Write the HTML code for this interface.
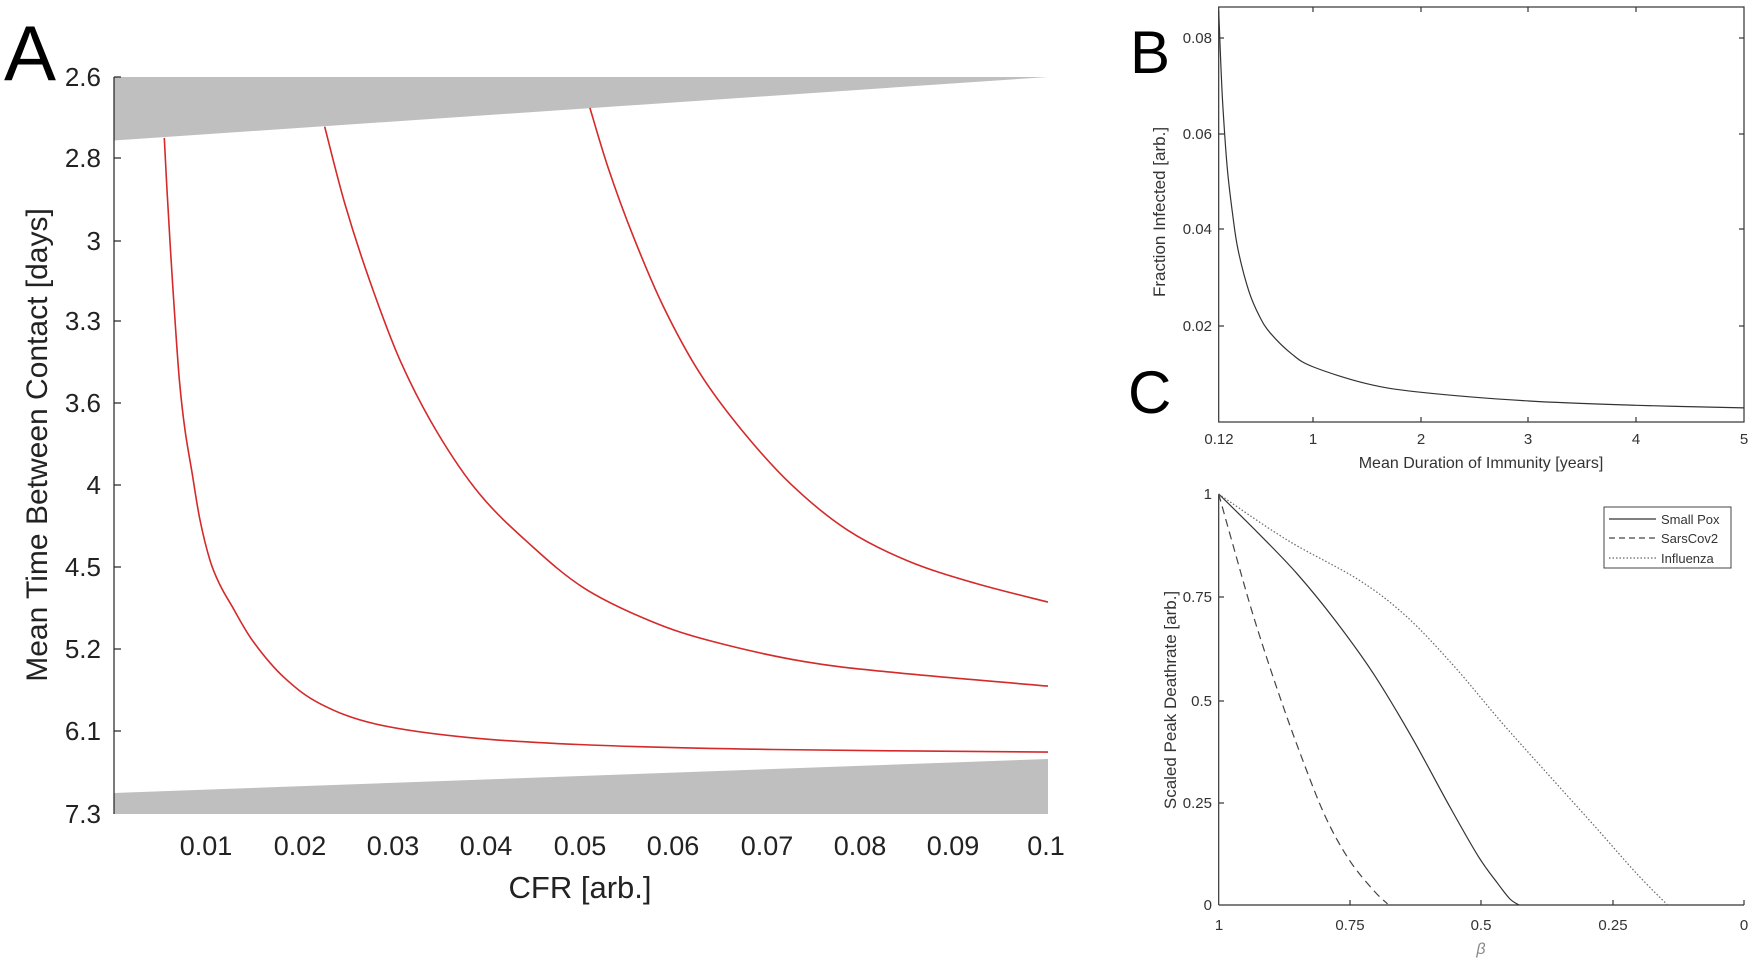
<!DOCTYPE html>
<html><head><meta charset="utf-8"><style>
html,body{margin:0;padding:0;background:#fff}
svg{display:block}
text{font-family:"Liberation Sans",Arial,sans-serif}
</style></head><body>
<svg width="1750" height="967" viewBox="0 0 1750 967" xmlns="http://www.w3.org/2000/svg">
<!-- Panel A -->
<text x="4" y="80" font-size="78" fill="#000">A</text>
<polygon points="114,77 1048,77 114,140.5" fill="#bfbfbf"/>
<polygon points="114,793 1048,759 1048,814 114,814" fill="#bfbfbf"/>
<line x1="114" y1="77" x2="114" y2="814" stroke="#222" stroke-width="1.2"/>
<g stroke="#222" stroke-width="1.2">
<line x1="114" y1="77" x2="121" y2="77"/><line x1="114" y1="158" x2="121" y2="158"/><line x1="114" y1="241" x2="121" y2="241"/>
<line x1="114" y1="321" x2="121" y2="321"/><line x1="114" y1="403" x2="121" y2="403"/><line x1="114" y1="485" x2="121" y2="485"/>
<line x1="114" y1="567" x2="121" y2="567"/><line x1="114" y1="649" x2="121" y2="649"/><line x1="114" y1="731" x2="121" y2="731"/>
</g>
<g font-size="26" fill="#222" text-anchor="end">
<text x="101" y="86">2.6</text><text x="101" y="167">2.8</text><text x="101" y="250">3</text>
<text x="101" y="330">3.3</text><text x="101" y="412">3.6</text><text x="101" y="494">4</text>
<text x="101" y="576">4.5</text><text x="101" y="658">5.2</text><text x="101" y="740">6.1</text>
<text x="101" y="823">7.3</text>
</g>
<g font-size="27" fill="#222" text-anchor="middle">
<text x="206" y="855">0.01</text><text x="300" y="855">0.02</text><text x="393" y="855">0.03</text>
<text x="486" y="855">0.04</text><text x="580" y="855">0.05</text><text x="673" y="855">0.06</text>
<text x="767" y="855">0.07</text><text x="860" y="855">0.08</text><text x="953" y="855">0.09</text>
<text x="1046" y="855">0.1</text>
</g>
<text x="580" y="898" font-size="31" fill="#222" text-anchor="middle">CFR [arb.]</text>
<text transform="translate(47,445) rotate(-90)" font-size="30" fill="#222" text-anchor="middle">Mean Time Between Contact [days]</text>
<g fill="none" stroke="#d42a2a" stroke-width="1.6" stroke-linejoin="round">
<polyline class="sm" points="164.3,137.9 167,190 170.4,248.6 175,320 179.6,382.5 185,430 191.9,471.8 200,520 210.2,561 220,585 231.7,605.7 253.1,641.4 283.7,677.1 320.5,703.9 375.6,724 467.4,737.4 589.9,745 773.6,749.5 1048,752.1"/>
<polyline class="sm" points="324.7,126.7 344.9,203.9 369.4,279.8 400,360.2 436.8,431.6 479.7,494.1 528.7,543.2 583.8,587.9 651.1,621.3 712.4,641.4 804.2,661.6 896.1,672.7 1048,686.1"/>
<polyline class="sm" points="589.9,107.9 608.3,168.2 632.8,235.2 663.4,306.6 700.1,373.6 743,431.6 792,485.2 847.1,529.8 908.3,561.1 975.7,583.4 1048,602.1"/>
</g>

<!-- Panel B -->
<rect x="1218.7" y="7" width="525.3" height="415" fill="none" stroke="#333" stroke-width="1.2"/>
<g stroke="#333" stroke-width="1.2">
<line x1="1218.7" y1="38" x2="1224" y2="38"/><line x1="1218.7" y1="134" x2="1224" y2="134"/><line x1="1218.7" y1="229" x2="1224" y2="229"/><line x1="1218.7" y1="326" x2="1224" y2="326"/>
<line x1="1744" y1="38" x2="1739" y2="38"/><line x1="1744" y1="134" x2="1739" y2="134"/><line x1="1744" y1="229" x2="1739" y2="229"/><line x1="1744" y1="326" x2="1739" y2="326"/>
<line x1="1313" y1="422" x2="1313" y2="417"/><line x1="1421" y1="422" x2="1421" y2="417"/><line x1="1528" y1="422" x2="1528" y2="417"/><line x1="1636" y1="422" x2="1636" y2="417"/>
<line x1="1313" y1="7" x2="1313" y2="12"/><line x1="1421" y1="7" x2="1421" y2="12"/><line x1="1528" y1="7" x2="1528" y2="12"/><line x1="1636" y1="7" x2="1636" y2="12"/>
</g>
<g font-size="15" fill="#333" text-anchor="end">
<text x="1212" y="43">0.08</text><text x="1212" y="139">0.06</text><text x="1212" y="234">0.04</text><text x="1212" y="331">0.02</text>
</g>
<g font-size="15" fill="#333" text-anchor="middle">
<text x="1219" y="444">0.12</text><text x="1313" y="444">1</text><text x="1421" y="444">2</text><text x="1528" y="444">3</text><text x="1636" y="444">4</text><text x="1744" y="444">5</text>
</g>
<text x="1481" y="468" font-size="16" fill="#333" text-anchor="middle">Mean Duration of Immunity [years]</text>
<text transform="translate(1165,212) rotate(-90)" font-size="17" fill="#333" text-anchor="middle">Fraction Infected [arb.]</text>
<polyline class="sm" fill="none" stroke="#333" stroke-width="1.2" stroke-linejoin="round" points="1218.7,10.5 1220.9,66 1223,108.6 1227.3,168.4 1232.7,214.8 1238.1,250 1248.9,291.3 1259.6,316.5 1270.4,333.2 1292,354.2 1313.5,367 1367.3,383.8 1421.2,392.3 1528.9,401 1636.6,405.3 1744.3,407.9"/>
<text x="1130" y="73" font-size="60" fill="#000">B</text>
<text x="1128" y="413" font-size="60" fill="#000">C</text>

<!-- Panel C -->
<line x1="1218.7" y1="494" x2="1218.7" y2="905" stroke="#333" stroke-width="1.2"/>
<line x1="1218.7" y1="905" x2="1744" y2="905" stroke="#333" stroke-width="1.2"/>
<g stroke="#333" stroke-width="1.2">
<line x1="1218.7" y1="597" x2="1224" y2="597"/><line x1="1218.7" y1="701" x2="1224" y2="701"/><line x1="1218.7" y1="803" x2="1224" y2="803"/>
<line x1="1350" y1="905" x2="1350" y2="900"/><line x1="1481" y1="905" x2="1481" y2="900"/><line x1="1613" y1="905" x2="1613" y2="900"/><line x1="1744" y1="905" x2="1744" y2="900"/>
</g>
<g font-size="15" fill="#333" text-anchor="end">
<text x="1212" y="499">1</text><text x="1212" y="602">0.75</text><text x="1212" y="706">0.5</text><text x="1212" y="808">0.25</text><text x="1212" y="910">0</text>
</g>
<g font-size="15" fill="#333" text-anchor="middle">
<text x="1219" y="930">1</text><text x="1350" y="930">0.75</text><text x="1481" y="930">0.5</text><text x="1613" y="930">0.25</text><text x="1744" y="930">0</text>
</g>
<text x="1481" y="954" font-size="16" font-style="italic" fill="#888" text-anchor="middle" font-family="Liberation Serif,serif">β</text>
<text transform="translate(1176,700) rotate(-90)" font-size="17" fill="#333" text-anchor="middle">Scaled Peak Deathrate [arb.]</text>
<g fill="none" stroke-linejoin="round">
<polyline class="sm" stroke="#333" stroke-width="1.2" points="1218.7,494 1258.4,533.3 1296.7,573.3 1334.9,620 1373.2,673.3 1411.5,736.7 1449.8,806.7 1478.5,856.7 1497.6,883.3 1510,899 1519.1,905"/>
<polyline class="sm" stroke="#444" stroke-width="1.2" stroke-dasharray="8,5" points="1218.7,494 1234.4,550 1253.6,616.7 1277.5,690 1301.4,756.7 1325.4,816.7 1349.3,860 1373.2,890 1387.6,904"/>
<polyline class="sm" stroke="#666" stroke-width="1.2" stroke-dasharray="1.5,2" points="1218.7,494 1287.1,540 1358.9,580 1406.7,616.7 1454.5,666.7 1502.4,723.3 1550.2,776.7 1598.1,830 1636.4,873.3 1667.5,905"/>
</g>
<rect x="1604" y="507" width="127" height="61" fill="#fff" stroke="#444" stroke-width="1"/>
<line x1="1609" y1="519" x2="1656" y2="519" stroke="#333" stroke-width="1.2"/>
<line x1="1609" y1="538" x2="1656" y2="538" stroke="#444" stroke-width="1.2" stroke-dasharray="6,4"/>
<line x1="1609" y1="558" x2="1656" y2="558" stroke="#666" stroke-width="1.2" stroke-dasharray="1.5,2"/>
<g font-size="13" fill="#333">
<text x="1661" y="524">Small Pox</text><text x="1661" y="543">SarsCov2</text><text x="1661" y="563">Influenza</text>
</g>
</svg>
<script>
(function(){
var ns="http://www.w3.org/2000/svg";
document.querySelectorAll("polyline.sm").forEach(function(pl){
 var p=pl.getAttribute("points").trim().split(/\s+/).map(function(s){var a=s.split(",");return [+a[0],+a[1]];});
 var d="M"+p[0][0]+","+p[0][1];
 for(var i=0;i<p.length-1;i++){
  var p0=p[i-1]||p[i],p1=p[i],p2=p[i+1],p3=p[i+2]||p2;
  var c1x=p1[0]+(p2[0]-p0[0])/6,c1y=p1[1]+(p2[1]-p0[1])/6;
  var c2x=p2[0]-(p3[0]-p1[0])/6,c2y=p2[1]-(p3[1]-p1[1])/6;
  d+=" C"+c1x.toFixed(2)+","+c1y.toFixed(2)+" "+c2x.toFixed(2)+","+c2y.toFixed(2)+" "+p2[0]+","+p2[1];
 }
 var path=document.createElementNS(ns,"path");
 for(var j=0;j<pl.attributes.length;j++){var at=pl.attributes[j];if(at.name!=="points"&&at.name!=="class")path.setAttribute(at.name,at.value);}
 path.setAttribute("d",d);
 pl.parentNode.replaceChild(path,pl);
});
})();
</script>
</body></html>
